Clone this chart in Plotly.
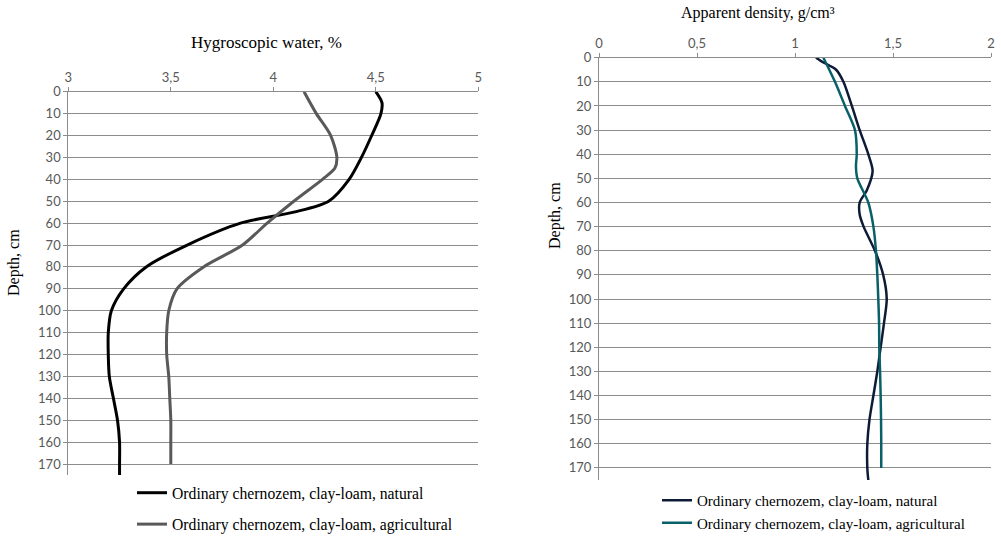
import plotly.graph_objects as go

# ---- Data ----
depth_left_nat = [0, 5, 10, 20, 30, 40, 50, 55, 60, 70, 80, 90, 100, 110, 120, 130, 140, 150, 160, 170, 175]
hygro_nat = [4.50, 4.53, 4.525, 4.48, 4.43, 4.37, 4.27, 4.10, 3.84, 3.58, 3.38, 3.27, 3.21, 3.195, 3.195, 3.20, 3.22, 3.24, 3.25, 3.25, 3.25]
depth_left_agr = [0, 10, 20, 30, 35, 40, 50, 60, 70, 80, 90, 100, 110, 120, 130, 140, 150, 160, 170]
hygro_agr = [4.15, 4.21, 4.28, 4.31, 4.30, 4.24, 4.10, 3.97, 3.85, 3.66, 3.53, 3.49, 3.48, 3.48, 3.49, 3.495, 3.50, 3.50, 3.50]

depth_right_nat = [0, 2, 5, 10, 20, 30, 40, 47, 55, 60, 65, 70, 80, 90, 100, 110, 120, 130, 140, 150, 160, 170, 175]
dens_nat = [1.107, 1.145, 1.21, 1.247, 1.29, 1.33, 1.374, 1.396, 1.366, 1.33, 1.33, 1.35, 1.408, 1.45, 1.468, 1.454, 1.437, 1.42, 1.40, 1.38, 1.369, 1.369, 1.374]
depth_right_agr = [0, 10, 20, 30, 40, 45, 50, 60, 70, 80, 90, 100, 110, 120, 130, 140, 150, 160, 170]
dens_agr = [1.145, 1.204, 1.255, 1.306, 1.315, 1.311, 1.318, 1.374, 1.40, 1.413, 1.42, 1.425, 1.429, 1.43, 1.434, 1.437, 1.439, 1.44, 1.44]

name_nat = "Ordinary chernozem, clay-loam, natural"
name_agr = "Ordinary chernozem, clay-loam, agricultural"
depth_ticks = list(range(0, 171, 10))

W, H = 1001, 536
GRID = "#8c8c8c"
TICKFONT = dict(family="Lato, Open Sans, sans-serif", size=13, color="#595959")
SERIF = "Liberation Serif, Times New Roman, serif"


def px_x(v):
    return v / W


def px_y(v):
    return 1 - v / H


fig = go.Figure()
fig.add_trace(go.Scatter(x=hygro_nat, y=depth_left_nat, mode="lines", name=name_nat,
                         line=dict(color="#000000", width=3, shape="spline", smoothing=0.8),
                         xaxis="x", yaxis="y", legend="legend", legendgroup="a"))
fig.add_trace(go.Scatter(x=hygro_agr, y=depth_left_agr, mode="lines", name=name_agr,
                         line=dict(color="#595959", width=3, shape="spline", smoothing=0.8),
                         xaxis="x", yaxis="y", legend="legend", legendgroup="b"))
fig.add_trace(go.Scatter(x=dens_nat, y=depth_right_nat, mode="lines", name=name_nat,
                         line=dict(color="#0d1b36", width=2.5, shape="spline", smoothing=0.8),
                         xaxis="x2", yaxis="y2", legend="legend2"))
fig.add_trace(go.Scatter(x=dens_agr, y=depth_right_agr, mode="lines", name=name_agr,
                         line=dict(color="#0a6068", width=2.5, shape="spline", smoothing=0.8),
                         xaxis="x2", yaxis="y2", legend="legend2"))

common_x = dict(side="top", showgrid=False, zeroline=False, showline=True, linecolor=GRID,
                ticks="outside", ticklen=4, tickcolor=GRID, tickfont=TICKFONT, dtick=0.5,
                automargin=False)
common_y = dict(showgrid=True, gridcolor=GRID, gridwidth=1, zeroline=False, showline=True,
                linecolor=GRID, ticks="outside", ticklen=4, tickcolor=GRID, tickfont=TICKFONT,
                tickvals=depth_ticks, range=[175, 0], automargin=False)

title_font = dict(family=SERIF, size=16, color="#000000")

fig.update_layout(
    width=W, height=H,
    margin=dict(l=0, r=0, t=0, b=0, autoexpand=False),
    paper_bgcolor="white", plot_bgcolor="white",
    separators=", ",
    xaxis=dict(domain=[px_x(68.3), px_x(478.3)], range=[3, 5], anchor="y", **common_x),
    yaxis=dict(domain=[px_y(475), px_y(91.7)], anchor="x", **common_y),
    xaxis2=dict(domain=[px_x(599), px_x(991)], range=[0, 2], anchor="y2", **common_x),
    yaxis2=dict(domain=[px_y(480), px_y(57.7)], anchor="x2", **common_y),
    legend=dict(x=px_x(132), y=px_y(476), xanchor="left", yanchor="top", tracegroupgap=8,
                font=dict(family=SERIF, size=15.7, color="#000000"), bgcolor="rgba(0,0,0,0)"),
    legend2=dict(x=px_x(657), y=px_y(484), xanchor="left", yanchor="top",
                 font=dict(family=SERIF, size=15, color="#000000"), bgcolor="rgba(0,0,0,0)"),
    showlegend=True,
    annotations=[
        dict(text="Hygroscopic water, %", x=px_x(266), y=px_y(42), xref="paper", yref="paper",
             xanchor="center", yanchor="middle", showarrow=False,
             font=dict(family=SERIF, size=17, color="#000000")),
        dict(text="Apparent density, g/cm³", x=px_x(758), y=px_y(13), xref="paper", yref="paper",
             xanchor="center", yanchor="middle", showarrow=False, font=title_font),
        dict(text="Depth, cm", x=px_x(14), y=px_y(263), xref="paper", yref="paper", textangle=-90,
             xanchor="center", yanchor="middle", showarrow=False, font=title_font),
        dict(text="Depth, cm", x=px_x(555), y=px_y(216), xref="paper", yref="paper", textangle=-90,
             xanchor="center", yanchor="middle", showarrow=False, font=title_font),
    ],
)

fig.write_html("out.html", config={"displayModeBar": False},
               post_script="document.body.style.margin='0';")
